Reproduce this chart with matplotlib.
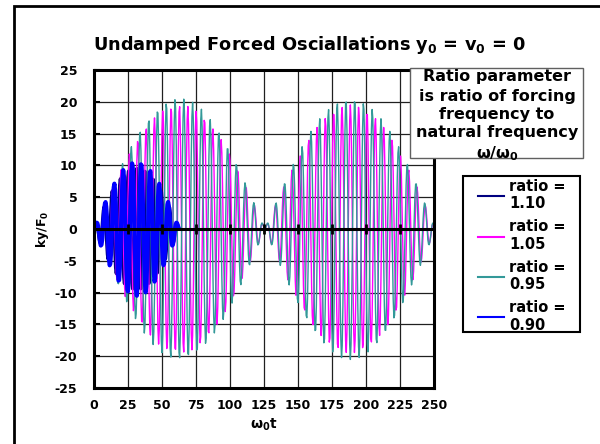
import numpy as np
import matplotlib
matplotlib.use("Agg")
import matplotlib.pyplot as plt
from matplotlib.patches import Rectangle

# ---- data (parameters of the plotted model) ----
ratios = [1.10, 1.05, 0.95, 0.90]
labels = ["ratio =\n1.10", "ratio =\n1.05", "ratio =\n0.95", "ratio =\n0.90"]
t_end = [62.0, 250.0, 250.0, 62.0]
t_step = 0.5
colors = ["#000080", "#FF00FF", "#339999", "#0000FF"]
widths = [2.6, 1.0, 1.0, 3.0]
xticks = [0, 25, 50, 75, 100, 125, 150, 175, 200, 225, 250]
yticks = [-25, -20, -15, -10, -5, 0, 5, 10, 15, 20, 25]

plt.rcParams['font.family'] = ['DejaVu Sans']
plt.rcParams['font.weight'] = 'bold'

W, H = 600, 444
fig = plt.figure(figsize=(6, 4.44), dpi=100)
fig.patch.set_facecolor('white')

def fx(px):
    return px / W

def fy(py):
    return 1 - py / H

ax = fig.add_axes([fx(94), fy(388), (434 - 94) / W, (388 - 70) / H])

lines = []
for r, lab, te, c, lw in zip(ratios, labels, t_end, colors, widths):
    t = np.arange(0, te + 1e-9, t_step)
    y = (np.cos(r * t) - np.cos(t)) / (1 - r ** 2)
    ln, = ax.plot(t, y, color=c, lw=lw, label=lab)
    lines.append(ln)

ax.set_xlim(0, 250)
ax.set_ylim(-25, 25)
ax.set_xticks(xticks)
ax.set_yticks(yticks)
ax.set_xticklabels([str(v) for v in xticks], fontsize=9, fontweight='bold')
ax.set_yticklabels([str(v) for v in yticks], fontsize=9, fontweight='bold')
ax.grid(True, color='#202020', lw=0.9)
ax.set_axisbelow(True)
ax.tick_params(axis='x', length=0, pad=8)
ax.tick_params(axis='y', length=4, width=1.5, direction='in', pad=12)
for s in ax.spines.values():
    s.set_linewidth(2.2)
    s.set_color('black')

# zero axis with tick marks
ax.axhline(0, color='black', lw=2.2, zorder=5)
ax.plot(xticks, [0] * len(xticks), linestyle='none', marker='|', ms=7, mew=2,
        color='black', zorder=6, clip_on=False)

ax.set_xlabel(r"$\mathbf{\omega}_\mathbf{0}$t", fontsize=10, fontweight='bold', labelpad=3)
ax.set_ylabel(r"ky/F$_\mathbf{0}$", fontsize=9, fontweight='bold', labelpad=3)

# title
fig.text(fx(309), fy(45), r"Undamped Forced Osciallations y$_\mathbf{0}$ = v$_\mathbf{0}$ = 0",
         ha='center', va='center', fontsize=12.8, fontweight='bold')

# outer frame
fig.patches.append(Rectangle((fx(14), -0.1), 1.2, fy(6) + 0.1, transform=fig.transFigure,
                             fill=False, edgecolor='black', lw=2))

# annotation box
fig.patches.append(Rectangle((fx(410), fy(158)), (583 - 410) / W, (158 - 68) / H,
                             transform=fig.transFigure, facecolor='white',
                             edgecolor='#606060', lw=1, zorder=3))
ann = ["Ratio parameter", "is ratio of forcing", "frequency to",
       "natural frequency", r"$\mathbf{\omega/\omega_0}$"]
ann_y = [77, 96, 114, 132, 154]
for s, yy in zip(ann, ann_y):
    fig.text(fx(497), fy(yy), s, ha='center', va='center', fontsize=11.5,
             fontweight='bold', zorder=4)

# legend frame
fig.patches.append(Rectangle((fx(463), fy(332)), (580 - 463) / W, (332 - 176) / H,
                             transform=fig.transFigure, facecolor='white',
                             edgecolor='black', lw=1.5, zorder=3))
leg = fig.legend(handles=lines, loc='upper left',
                 bbox_to_anchor=(fx(478), fy(179)), bbox_transform=fig.transFigure,
                 borderaxespad=0, borderpad=0,
                 frameon=False,
                 prop={'size': 10.5, 'weight': 'bold'}, handlelength=1.75,
                 handletextpad=0.4, labelspacing=0.55)
leg.set_zorder(6)
for h in leg.get_lines():
    h.set_linewidth(1.5)

fig.savefig("out.png", dpi=100)
